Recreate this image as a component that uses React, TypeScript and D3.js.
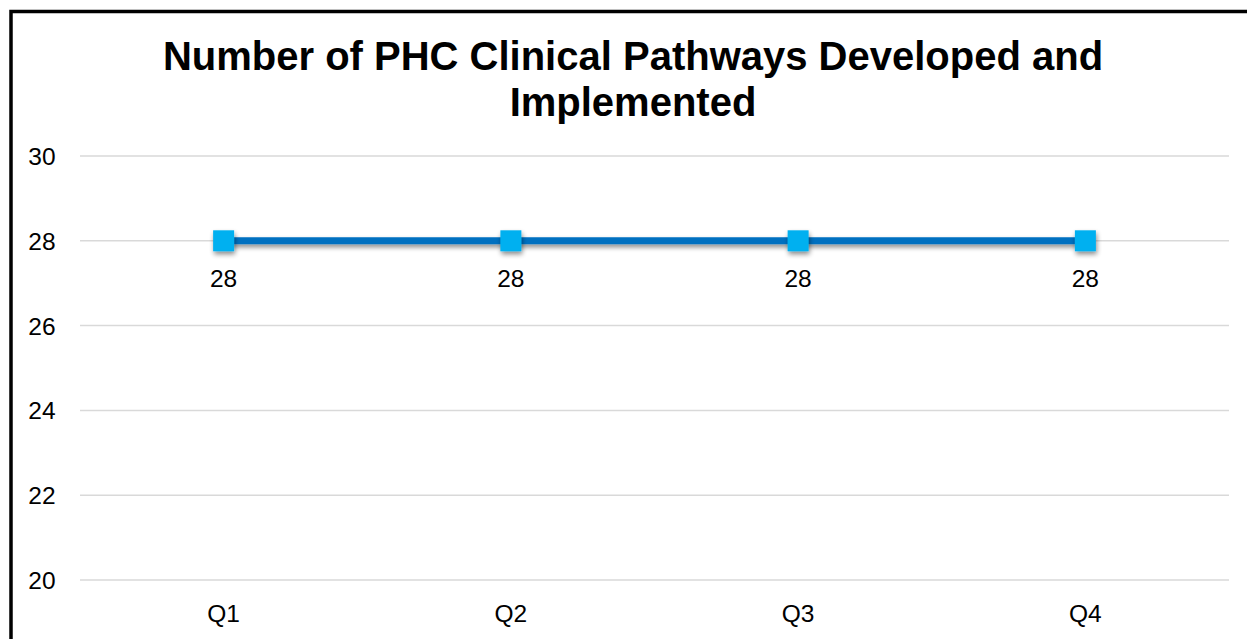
import React from "react";
import * as d3 from "d3";

const categories = ["Q1", "Q2", "Q3", "Q4"];
const values = [28, 28, 28, 28];
const yTicks = [20, 22, 24, 26, 28, 30];
const titleLines = ["Number of PHC Clinical Pathways Developed and", "Implemented"];

export default function App() {
  const W = 1247, H = 639;
  const left = 80, right = 1229, top = 156, bottom = 580;
  const x = d3.scaleBand().domain(categories).range([left, right]);
  const y = d3.scaleLinear().domain([20, 30]).range([bottom, top]);
  const cx = (c: string) => (x(c) as number) + x.bandwidth() / 2;
  const line = d3.line<number>().x((_, i) => cx(categories[i])).y((d) => y(d));
  const font = "Arial, 'Liberation Sans', sans-serif";
  return (
    <svg width={W} height={H} style={{ position: "absolute", left: 0, top: 0 }}>
      <defs>
        <filter id="sh" filterUnits="userSpaceOnUse" x={0} y={0} width={W} height={H}>
          <feGaussianBlur in="SourceAlpha" stdDeviation="2.5" />
          <feOffset dx="1" dy="3" result="b" />
          <feComponentTransfer><feFuncA type="linear" slope="0.45" /></feComponentTransfer>
          <feMerge><feMergeNode /><feMergeNode in="SourceGraphic" /></feMerge>
        </filter>
      </defs>
      <rect x={0} y={0} width={W} height={H} fill="#fff" />
      <rect x={11} y={11.5} width={1300} height={700} fill="none" stroke="#000" strokeWidth={3.5} />
      {titleLines.map((t, i) => (
        <text key={i} x={633} y={70 + i * 46} textAnchor="middle" fontFamily={font} fontWeight="bold" fontSize={40} fill="#000">{t}</text>
      ))}
      {yTicks.map((t) => (
        <g key={t}>
          <line x1={left} x2={right} y1={y(t)} y2={y(t)} stroke="#d9d9d9" strokeWidth={1.5} />
          <text x={42} y={y(t) + 9} textAnchor="middle" fontFamily={font} fontSize={24.5} fill="#000">{t}</text>
        </g>
      ))}
      {categories.map((c) => (
        <text key={c} x={cx(c)} y={622} textAnchor="middle" fontFamily={font} fontSize={24.5} fill="#000">{c}</text>
      ))}
      <path d={line(values) || ""} fill="none" stroke="#0070C0" strokeWidth={7} filter="url(#sh)" />
      {values.map((v, i) => (
        <rect key={i} x={cx(categories[i]) - 10.5} y={y(v) - 10.5} width={21} height={21} fill="#00B0F0" filter="url(#sh)" />
      ))}
      {values.map((v, i) => (
        <text key={i} x={cx(categories[i])} y={y(v) + 46} textAnchor="middle" fontFamily={font} fontSize={24.5} fill="#000">{v}</text>
      ))}
    </svg>
  );
}
